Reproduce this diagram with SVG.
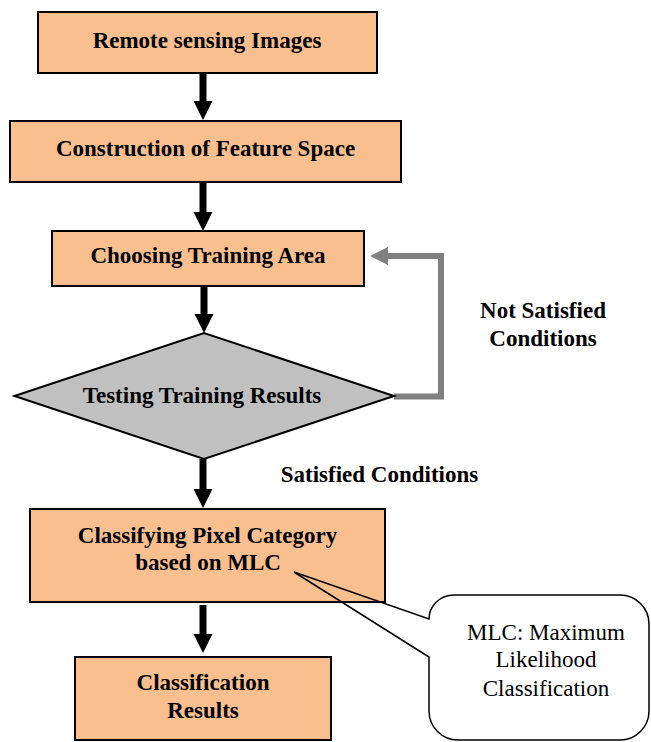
<svg xmlns="http://www.w3.org/2000/svg" width="651" height="742" viewBox="0 0 651 742">
<style>
.box{fill:#F9BF8F;stroke:#000;stroke-width:2}
.dia{fill:#C0C0C0;stroke:#000;stroke-width:2}
.t{font-family:"Liberation Serif","Times New Roman",serif;font-weight:bold;font-size:23px;fill:#000;text-anchor:middle}
.r{font-family:"Liberation Serif","Times New Roman",serif;font-size:23px;fill:#000;text-anchor:middle}
.shaft{stroke:#000;stroke-width:7;fill:none}
.head{fill:#000}
.gray{stroke:#808080;stroke-width:6;fill:none}
</style>
<rect width="651" height="742" fill="#fff"/>
<g id="connectors">
<line class="shaft" x1="203" y1="73" x2="203" y2="102"/>
<polygon class="head" points="193.5,101 212.5,101 203,120"/>
<line class="shaft" x1="203" y1="182" x2="203" y2="213"/>
<polygon class="head" points="193.5,212 212.5,212 203,231"/>
<line class="shaft" x1="204" y1="286" x2="204" y2="315"/>
<polygon class="head" points="194.5,314 213.5,314 204,333"/>
<line class="shaft" x1="203" y1="459" x2="203" y2="490"/>
<polygon class="head" points="193.5,489 212.5,489 203,508"/>
<line class="shaft" x1="203" y1="605" x2="203" y2="635"/>
<polygon class="head" points="193.5,634 212.5,634 203,653"/>
<polyline class="gray" points="394,396.5 441,396.5 441,256 386,256"/>
<polygon fill="#808080" points="370,256 388,247 388,265"/>
</g>
<g id="n1"><rect class="box" x="38" y="12" width="339" height="61"/><text class="t" x="207" y="48">Remote sensing Images</text></g>
<g id="n2"><rect class="box" x="10" y="121" width="391" height="61"/><text class="t" x="205.5" y="156">Construction of Feature Space</text></g>
<g id="n3"><rect class="box" x="52" y="231" width="312" height="55"/><text class="t" x="208" y="263">Choosing Training Area</text></g>
<g id="n4"><polygon class="dia" points="14.5,396 204,333 394,396 204,459"/><text class="t" x="202" y="403">Testing Training Results</text></g>
<g id="n5"><rect class="box" x="30" y="509" width="355" height="93"/><text class="t" x="207.5" y="543">Classifying Pixel Category</text><text class="t" x="208" y="570">based on MLC</text></g>
<g id="n6"><rect class="box" x="75" y="657" width="256" height="83"/><text class="t" x="203" y="690">Classification</text><text class="t" x="203" y="718">Results</text></g>
<g id="labels">
<text class="t" x="543" y="318">Not Satisfied</text>
<text class="t" x="543" y="346">Conditions</text>
<text class="t" x="379.5" y="482">Satisfied Conditions</text>
</g>
<g id="callout">
<path d="M454 595 H620 A29 29 0 0 1 649 624 V711 A29 29 0 0 1 620 740 H458 A29 29 0 0 1 429 711 V657 L294 572 L429 619 A25 24 0 0 1 454 595 Z" fill="none" stroke="#000" stroke-width="1.5"/>
<text class="r" x="546" y="640">MLC: Maximum</text>
<text class="r" x="546" y="667">Likelihood</text>
<text class="r" x="546" y="696">Classification</text>
</g>
</svg>
